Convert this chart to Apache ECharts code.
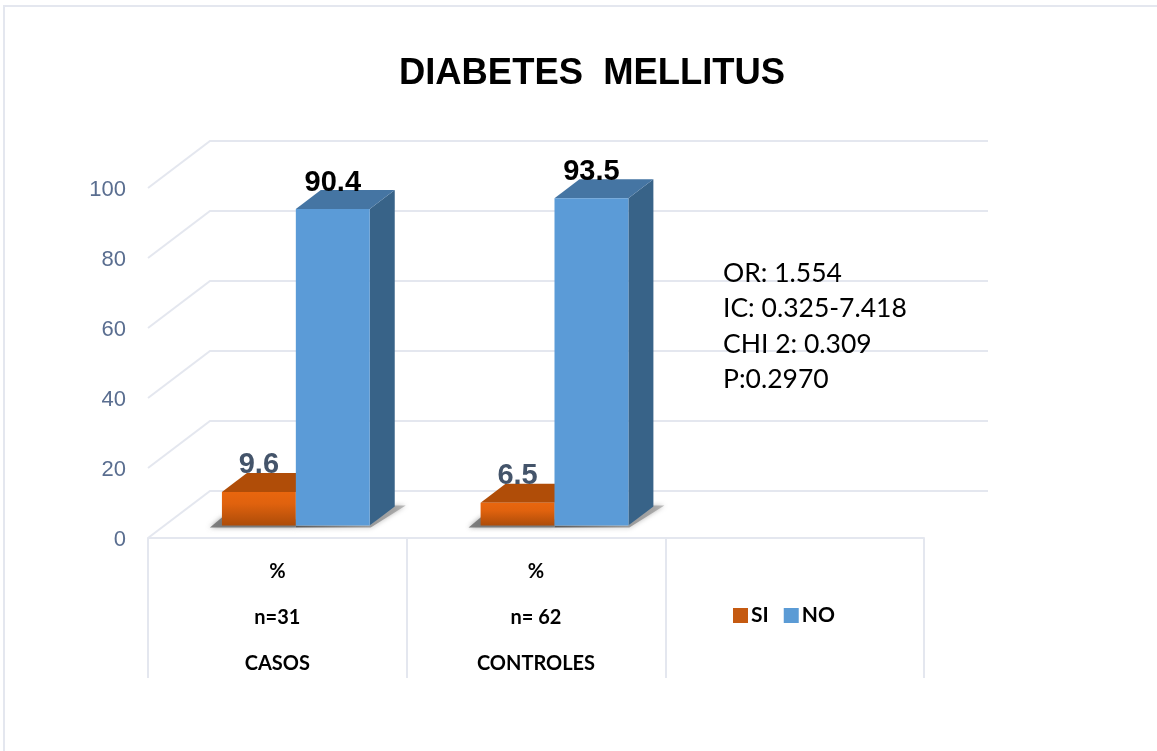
<!DOCTYPE html>
<html>
<head>
<meta charset="utf-8">
<style>
  html, body { margin: 0; padding: 0; background: #fff; }
  #main { width: 1157px; height: 751px; }
</style>
<script src="https://cdn.jsdelivr.net/npm/echarts@6/dist/echarts.min.js"></script>
</head>
<body>
<div id="main"></div>
<script>
const categories = ['%\nn=31\nCASOS', '%\nn= 62\nCONTROLES', ''];
const siValues = [9.6, 6.5];
const noValues = [90.4, 93.5];
const yTicks = [0, 20, 40, 60, 80, 100];
const notes = ['OR: 1.554', 'IC: 0.325-7.418', 'CHI 2: 0.309', 'P:0.2970'];

const WALL_DX = 62, WALL_DY = -47;   // depth of the 3d floor
const BAR_DX = 25, BAR_DY = -19;     // depth of a bar
const BAR_SHIFT_X = 18.5, BAR_SHIFT_Y = -12.5; // bars stand inside the floor
const WALL_RIGHT = 988;
const LINE = '#e4e7ef';

const chart = echarts.init(document.getElementById('main'));

function renderWall(params, api) {
  const v = api.value(1);
  const x0 = params.coordSys.x;
  const y = api.coord([0, v])[1];
  return {
    type: 'polyline',
    silent: true,
    shape: { points: [[x0, y], [x0 + WALL_DX, y + WALL_DY], [WALL_RIGHT, y + WALL_DY]] },
    style: { fill: null, stroke: LINE, lineWidth: 2 }
  };
}

function makeBar(side, look) {
  return function (params, api) {
    const cat = api.value(0), v = api.value(1);
    const band = api.size([1, 0])[0];
    const w = band * 0.2857;
    const pos = api.coord([cat, v]);
    const base = api.coord([cat, 0])[1] + BAR_SHIFT_Y;
    const top = pos[1] + BAR_SHIFT_Y;
    const l = pos[0] + BAR_SHIFT_X + (side < 0 ? -w : 0);
    const r = l + w;
    const shadow = side < 0
      ? [[l - 12, base + 2], [r, base + 2], [r, base - 6], [l, base - 8]]
      : [[l, base], [l, base + 2], [r + 1, base + 2], [r + 36, base - 20], [r + 24, base - 20], [r, base]];
    return {
      type: 'group',
      children: [
        { type: 'polygon', silent: true, shape: { points: shadow },
          style: { fill: look.shadow, shadowBlur: 5, shadowColor: 'rgba(100,100,100,0.7)' } },
        { type: 'polygon', shape: { points: [[r, top], [r + BAR_DX, top + BAR_DY], [r + BAR_DX, base + BAR_DY], [r, base]] },
          style: { fill: look.side } },
        { type: 'polygon', shape: { points: [[l, top], [l + BAR_DX, top + BAR_DY], [r + BAR_DX, top + BAR_DY], [r, top]] },
          style: { fill: look.top } },
        { type: 'rect', shape: { x: l, y: top, width: w, height: base - top },
          style: { fill: look.front } },
        { type: 'text', silent: true,
          style: { text: String(v), x: (l + r) / 2, y: top - 26.5, fill: look.label,
            font: 'bold 29px "Liberation Sans", Arial, sans-serif', textAlign: 'center', textVerticalAlign: 'middle' } }
      ]
    };
  };
}

const siLook = {
  front: new echarts.graphic.LinearGradient(0, 0, 0, 1, [
    { offset: 0, color: '#e9660e' }, { offset: 0.35, color: '#e0620e' }, { offset: 1, color: '#ad4c09' }
  ]),
  top: '#b04d08', side: '#8e3f07', label: '#44546a', shadow: 'rgba(110,110,110,0.85)'
};
const noLook = {
  front: '#5b9bd7', top: '#4575a3', side: '#386388', label: '#000',
  shadow: new echarts.graphic.LinearGradient(0, 1, 1, 0, [
    { offset: 0, color: 'rgba(80,80,80,0.95)' }, { offset: 1, color: 'rgba(150,150,150,0.6)' }
  ])
};

chart.setOption({
  backgroundColor: '#fff',
  animation: false,
  title: {
    text: 'DIABETES  MELLITUS',
    left: 587, top: 51, textAlign: 'center',
    textStyle: { fontFamily: '"Liberation Sans"', fontSize: 36.4, fontWeight: 'bold', color: '#000' }
  },
  legend: {
    left: 728, top: 600,
    data: ['SI', 'NO'],
    icon: 'rect', itemWidth: 15, itemHeight: 15, itemGap: 15,
    textStyle: { fontFamily: 'Lato', fontSize: 21, fontWeight: 'bold', color: '#000', padding: [0, 0, 0, -2] }
  },
  grid: { left: 148, right: 233, top: 188, bottom: 213, containLabel: false },
  xAxis: {
    type: 'category',
    data: categories,
    axisLine: { show: true, lineStyle: { color: LINE, width: 2 } },
    axisTick: { show: true, length: 140, lineStyle: { color: LINE, width: 2 } },
    axisLabel: { interval: 0, margin: 11, lineHeight: 46, fontFamily: 'Lato', fontSize: 20, fontWeight: 'bold', color: '#000' }
  },
  yAxis: {
    type: 'value', min: 0, max: 100, interval: 20,
    axisLine: { show: false }, axisTick: { show: false }, splitLine: { show: false },
    axisLabel: { margin: 22, verticalAlign: 'top', lineHeight: 4, fontFamily: '"Liberation Sans"', fontSize: 22, color: '#5a6e90' }
  },
  graphic: [
    { type: 'polyline', shape: { points: [[4, 751], [4, 6], [1157, 6]] }, style: { fill: null, stroke: LINE, lineWidth: 2 }, silent: true },
    { type: 'text', left: 723, top: 256, z: 100, silent: true,
      style: { text: notes.join('\n'), fill: '#000', font: '26.5px Lato', lineHeight: 35.3 } }
  ],
  series: [
    { type: 'custom', name: 'walls', silent: true, clip: false, z: 1,
      data: yTicks.map(v => [0, v]), renderItem: renderWall },
    { type: 'custom', name: 'SI', clip: false, z: 2, itemStyle: { color: '#c55a11' },
      data: siValues.map((v, i) => [i, v]), renderItem: makeBar(-1, siLook) },
    { type: 'custom', name: 'NO', clip: false, z: 3, itemStyle: { color: '#5b9bd5' },
      data: noValues.map((v, i) => [i, v]), renderItem: makeBar(1, noLook) }
  ]
});
</script>
</body>
</html>
